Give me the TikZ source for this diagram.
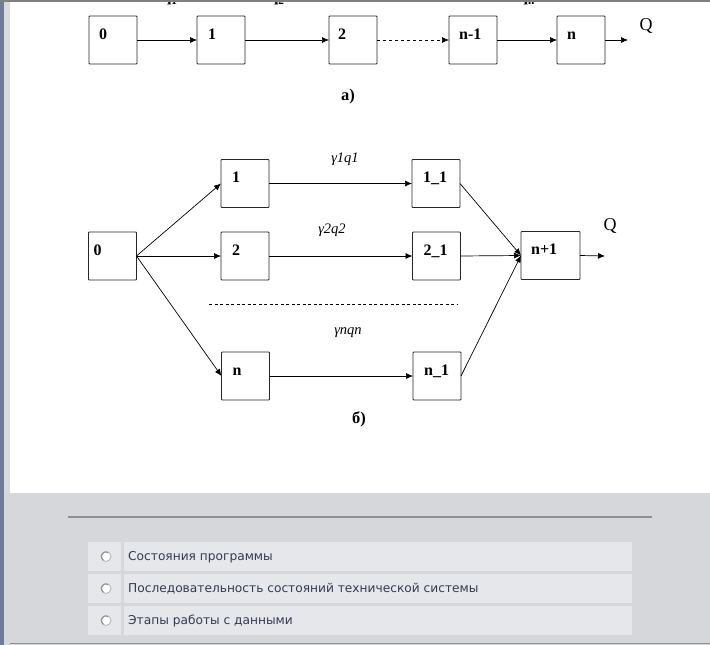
\documentclass[tikz,border=0pt]{standalone}
\usepackage{fontspec}
\setmainfont{Liberation Serif}
\newfontfamily\uifont{DejaVu Sans}
\usetikzlibrary{arrows.meta,calc}
\definecolor{pagebg}{HTML}{D6D7DB}
\definecolor{rowbg}{HTML}{E6E7EB}
\definecolor{edgeblue}{HTML}{6E7B99}
\definecolor{edgegray}{HTML}{D9DADE}
\definecolor{rulegray}{HTML}{8E8F93}
\definecolor{uitext}{HTML}{333A50}
\begin{document}
\begin{tikzpicture}[x=1pt,y=-1pt,
  box/.style={draw=black!85, line width=0.8pt, rounded corners=0.8pt, minimum width=48pt, minimum height=48pt, inner sep=0pt, outer sep=0pt},
  boxlbl/.style={font=\fontsize{16}{16}\selectfont\bfseries, inner sep=0pt, anchor=base west},
  glbl/.style={font=\fontsize{14.5}{14.5}\selectfont\itshape, inner sep=0pt},
  caplbl/.style={font=\fontsize{16.5}{16.5}\selectfont\bfseries, inner sep=0pt},
  qlbl/.style={font=\fontsize{18}{18}\selectfont, inner sep=0pt},
  toplbl/.style={font=\fontsize{16}{16}\selectfont\bfseries, inner sep=0pt, anchor=base},
  conn/.style={line width=0.7pt, -{Latex[length=7pt,width=6pt]}},
  uitxt/.style={font=\uifont\fontsize{12.2}{12.2}\selectfont, text=uitext, inner sep=0pt, anchor=west},
  radio/.style={circle, draw=gray!60, fill=white, line width=0.8pt, minimum size=10pt, inner sep=0pt}
]
\useasboundingbox (0,0) rectangle (710,645);
% page background
\fill[white] (0,0) rectangle (710,493);
\fill[pagebg] (0,493) rectangle (710,645);
\fill[edgegray] (4,0) rectangle (10,493);
\fill[edgeblue] (0,0) rectangle (4,645);
\draw[rulegray, line width=1pt] (10,643.5) -- (710,643.5);

% top labels, cut off by the upper edge as in the screenshot
\begin{scope}
\clip (0,0) rectangle (710,645);
\node[toplbl] (q1) at (170,1.5) {q\textsubscript{1}};
\node[toplbl] (q2) at (277,1.5) {q\textsubscript{2}};
\node[toplbl] (qn) at (527,1.5) {q\textsubscript{n}};
\end{scope}
\draw[gray, line width=1.5pt] (0,0.75) -- (710,0.75);

% ---------- a) ----------
\node[box] (a0) at (113,40) {};
\node[box] (a1) at (221,40) {};
\node[box] (a2) at (353,40) {};
\node[box] (an1) at (473,40) {};
\node[box] (an) at (581,40) {};
\node[boxlbl] (ta0) at ($(a0.west)+(10,-1)$) {0};
\node[boxlbl] (ta1) at ($(a1.west)+(11,-1)$) {1};
\node[boxlbl] (ta2) at ($(a2.west)+(9,-1)$) {2};
\node[boxlbl] (tan1) at ($(an1.west)+(10,-1)$) {n-1};
\node[boxlbl] (tan) at ($(an.west)+(10,-1)$) {n};
\coordinate (aout) at (628,40);
\draw[conn] (a0) -- (a1);
\draw[conn] (a1) -- (a2);
\draw[conn, dash pattern=on 3pt off 3pt] (a2) -- (an1);
\draw[conn] (an1) -- (an);
\draw[conn] (an) -- (aout);
\node[qlbl] (qa) at (646,26) {Q};
\node[caplbl] (capa) at (348,97) {a)};

% ---------- b) ----------
\node[box] (b0) at (112.5,256) {};
\node[box] (b1) at (245,183.5) {};
\node[box] (b2) at (245,256) {};
\node[box] (bn) at (245.5,376) {};
\node[box] (b11) at (436,183.5) {};
\node[box] (b21) at (436.5,256) {};
\node[box] (bn1) at (437,376) {};
\node[box, minimum width=59pt] (bout) at (550.5,255.5) {};
\node[boxlbl] (tb0) at ($(b0.west)+(5,-1)$) {0};
\node[boxlbl] (tb1) at ($(b1.west)+(11,-1)$) {1};
\node[boxlbl] (tb2) at ($(b2.west)+(11,-1)$) {2};
\node[boxlbl] (tbn) at ($(bn.west)+(11,-1)$) {n};
\node[boxlbl] (tb11) at ($(b11.west)+(11,-1)$) {1\_1};
\node[boxlbl] (tb21) at ($(b21.west)+(11,-1)$) {2\_1};
\node[boxlbl] (tbn1) at ($(bn1.west)+(11,-1)$) {n\_1};
\node[boxlbl] (tbout) at ($(bout.west)+(10,-1)$) {n+1};
\draw[conn] (b0.east) -- (b1.west);
\draw[conn] (b0.east) -- (b2.west);
\draw[conn] (b0.east) -- (bn.west);
\draw[conn] (b1) -- (b11);
\draw[conn] (b2) -- (b21);
\draw[conn] (bn) -- (bn1);
\draw[conn] (b11.east) -- (bout.west);
\draw[conn] (b21.east) -- (bout.west);
\draw[conn] (bn1.east) -- (bout.west);
\coordinate (bq) at (605,256);
\draw[conn] (bout.east) -- (bq);
\node[qlbl] (qb) at (610,226) {Q};
\node[glbl] (g1) at (345,159) {γ1q1};
\node[glbl] (g2) at (332,230) {γ2q2};
\node[glbl] (gn) at (348,333) {γnqn};
\coordinate (dl) at (209,304);
\coordinate (dr) at (458,304);
\draw[line width=0.7pt, dash pattern=on 3pt off 2.5pt] (dl) -- (dr);
\node[caplbl] (capb) at (359,419) {б)};

% ---------- answer options ----------
\draw[rulegray, line width=1.5pt] (68,517) -- (652,517);
\foreach \i/\ya/\yb in {1/542/571, 2/574/603, 3/606/635}{
  \fill[rowbg] (88,\ya) rectangle (121,\yb);
  \fill[rowbg] (124,\ya) rectangle (632,\yb);
  \node[radio] (r\i) at (106,{(\ya+\yb)/2}) {};
  \draw[gray!110!black, line width=1pt] ($(r\i)+(2,-4.2)$) arc[start angle=65, end angle=235, radius=4.6pt];
}
\node[uitxt] (o1) at (128,557) {Состояния программы};
\node[uitxt] (o2) at (128,589) {Последовательность состояний технической системы};
\node[uitxt] (o3) at (128,621) {Этапы работы с данными};
\end{tikzpicture}
\end{document}
